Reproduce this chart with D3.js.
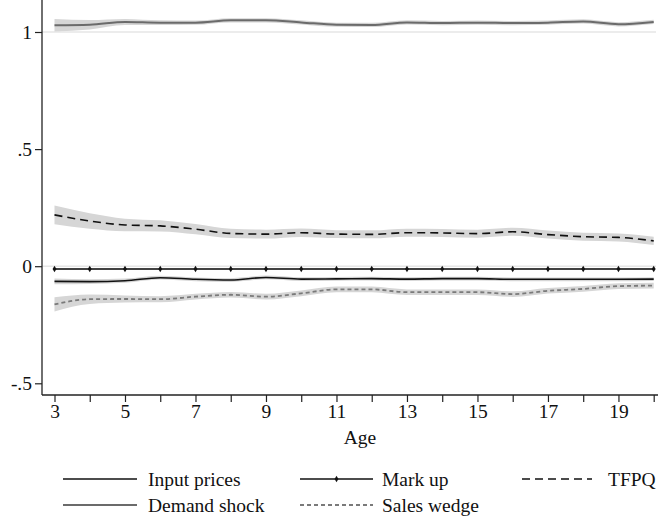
<!DOCTYPE html>
<html>
<head>
<meta charset="utf-8">
<script src="https://cdn.jsdelivr.net/npm/d3@7/dist/d3.min.js"></script>
<style>
  html, body { margin: 0; padding: 0; background: #fff; }
  svg { display: block; }
  text { font-family: "Liberation Serif", "DejaVu Serif", serif; fill: #111; }
</style>
</head>
<body>
<svg id="chart" width="658" height="519"></svg>
<script>
// Age profile of each component (point estimate and half-width of its confidence band)
const ages = [3,4,5,6,7,8,9,10,11,12,13,14,15,16,17,18,19,20];

const inputPrices   = [-0.065,-0.066,-0.062,-0.049,-0.056,-0.059,-0.048,-0.055,-0.054,-0.053,-0.055,-0.053,-0.053,-0.056,-0.056,-0.056,-0.056,-0.055];
const inputPricesCI = [0.012,0.010,0.009,0.008,0.008,0.008,0.008,0.008,0.008,0.008,0.008,0.008,0.008,0.008,0.008,0.008,0.008,0.008];

const markUp   = [-0.012,-0.012,-0.012,-0.012,-0.012,-0.012,-0.012,-0.012,-0.012,-0.012,-0.012,-0.012,-0.012,-0.012,-0.012,-0.012,-0.012,-0.012];
const markUpCI = [0.004,0.004,0.004,0.004,0.004,0.004,0.004,0.004,0.004,0.004,0.004,0.004,0.004,0.004,0.004,0.004,0.004,0.004];

const tfpq   = [0.219,0.193,0.176,0.172,0.158,0.140,0.137,0.143,0.137,0.136,0.143,0.142,0.139,0.147,0.135,0.126,0.123,0.108];
const tfpqCI = [0.040,0.033,0.027,0.024,0.022,0.020,0.019,0.018,0.017,0.017,0.017,0.017,0.017,0.017,0.017,0.017,0.017,0.018];

const demandShock   = [1.029,1.031,1.043,1.040,1.040,1.050,1.050,1.041,1.031,1.030,1.041,1.038,1.040,1.038,1.040,1.045,1.033,1.043];
const demandShockCI = [0.027,0.020,0.013,0.010,0.009,0.009,0.009,0.009,0.009,0.009,0.009,0.009,0.009,0.009,0.009,0.009,0.009,0.009];

const salesWedge   = [-0.163,-0.141,-0.140,-0.141,-0.130,-0.122,-0.130,-0.116,-0.099,-0.099,-0.111,-0.111,-0.111,-0.119,-0.105,-0.097,-0.085,-0.083];
const salesWedgeCI = [0.030,0.020,0.015,0.013,0.012,0.012,0.012,0.012,0.012,0.012,0.012,0.012,0.012,0.012,0.012,0.012,0.012,0.012];

const yTicks = [-0.5, 0, 0.5, 1];
const yTickLabels = ["-.5", "0", ".5", "1"];
const xTickLabels = [3,5,7,9,11,13,15,17,19];
const gridValues = [0, 1];

const svg = d3.select("#chart");
const FONT = "19.5px";

const x = d3.scaleLinear().domain([3, 20]).range([54.5, 653.7]);
const y = d3.scaleLinear().domain([-0.5, 1]).range([383.3, 32]);

const plotLeft = 42, plotRight = 658, plotTop = 0, plotBottom = 395;

// grid lines
svg.append("g").selectAll("line").data(gridValues).join("line")
  .attr("x1", plotLeft).attr("x2", 656)
  .attr("y1", d => y(d)).attr("y2", d => y(d))
  .attr("stroke", "#e6e6e6").attr("stroke-width", 1.4);

const series = [
  { key: "demand", v: demandShock, ci: demandShockCI, color: "#6b6b6b", width: 2, dash: null },
  { key: "tfpq",   v: tfpq,        ci: tfpqCI,        color: "#111",    width: 1.6, dash: "8,5" },
  { key: "markup", v: markUp,      ci: markUpCI,      color: "#111",    width: 1.3, dash: null },
  { key: "input",  v: inputPrices, ci: inputPricesCI, color: "#111",    width: 1.6, dash: null },
  { key: "sales",  v: salesWedge,  ci: salesWedgeCI,  color: "#7a7a7a", width: 1.8, dash: "4,3" }
];

const area = d3.area().curve(d3.curveMonotoneX);
const line = d3.line().curve(d3.curveMonotoneX);

// confidence bands
series.forEach(s => {
  const pts = ages.map((a, i) => ({ a, lo: s.v[i] - s.ci[i], hi: s.v[i] + s.ci[i] }));
  svg.append("path")
    .attr("d", area.x(d => x(d.a)).y0(d => y(d.lo)).y1(d => y(d.hi))(pts))
    .attr("fill", "#d6d6d6");
});

// point estimates
series.forEach(s => {
  const pts = ages.map((a, i) => [x(a), y(s.v[i])]);
  svg.append("path")
    .attr("d", line(pts))
    .attr("fill", "none")
    .attr("stroke", s.color)
    .attr("stroke-width", s.width)
    .attr("stroke-dasharray", s.dash);
});

// mark up markers
const diamond = d3.symbol().type(d3.symbolDiamond).size(13);
svg.append("g").selectAll("path").data(ages).join("path")
  .attr("transform", (d, i) => `translate(${x(d)},${y(markUp[i])})`)
  .attr("d", diamond())
  .attr("fill", "#111");

// axes
const yAxis = svg.append("g").attr("transform", `translate(${plotLeft},0)`)
  .call(d3.axisLeft(y).tickValues(yTicks).tickSize(7).tickPadding(3)
    .tickFormat((d, i) => yTickLabels[i]));
yAxis.select(".domain").remove();
yAxis.append("line").attr("x1", 0).attr("x2", 0).attr("y1", plotTop).attr("y2", plotBottom)
  .attr("stroke", "#222").attr("stroke-width", 1.3);

const xAxis = svg.append("g").attr("transform", `translate(0,${plotBottom})`)
  .call(d3.axisBottom(x).tickValues(ages).tickSize(7).tickPadding(2)
    .tickFormat(d => xTickLabels.includes(d) ? String(d) : ""));
xAxis.select(".domain").remove();
xAxis.append("line").attr("x1", plotLeft).attr("x2", plotRight).attr("y1", 0).attr("y2", 0)
  .attr("stroke", "#222").attr("stroke-width", 1.3);

svg.selectAll(".tick line").attr("stroke", "#222").attr("stroke-width", 1.2);
svg.selectAll(".tick text")
  .style("font-family", '"Liberation Serif", serif')
  .style("font-size", FONT).attr("fill", "#111");

svg.append("text").attr("x", 360).attr("y", 444).attr("text-anchor", "middle")
  .style("font-size", FONT).text("Age");

// legend
const legendItems = [
  { label: "Input prices", s: "input",  col: 0, row: 0 },
  { label: "Mark up",      s: "markup", col: 1, row: 0 },
  { label: "TFPQ",         s: "tfpq",   col: 2, row: 0 },
  { label: "Demand shock", s: "demand", col: 0, row: 1 },
  { label: "Sales wedge",  s: "sales",  col: 1, row: 1 }
];
const colX = [[63, 137, 148], [300, 373, 382], [522, 592, 608]];
const rowY = [479, 505];

const lg = svg.append("g");
legendItems.forEach(it => {
  const s = series.find(d => d.key === it.s);
  const [x0, x1, tx] = colX[it.col];
  const yy = rowY[it.row];
  lg.append("line").attr("x1", x0).attr("x2", x1).attr("y1", yy).attr("y2", yy)
    .attr("stroke", s.color).attr("stroke-width", s.width)
    .attr("stroke-dasharray", s.dash);
  if (it.s === "markup") {
    lg.append("path").attr("transform", `translate(${(x0 + x1) / 2},${yy})`)
      .attr("d", diamond()).attr("fill", "#111");
  }
  lg.append("text").attr("x", tx).attr("y", yy + 6.5)
    .style("font-size", FONT).text(it.label);
});
</script>
</body>
</html>
